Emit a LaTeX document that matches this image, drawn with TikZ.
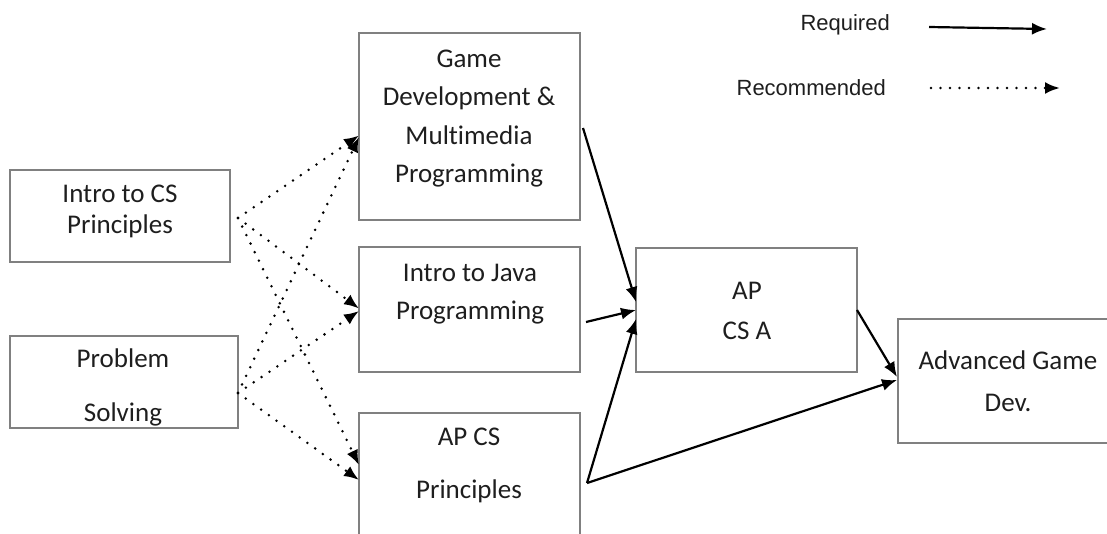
\documentclass[tikz,border=0pt]{standalone}
\usepackage{fontspec}
\setmainfont{Carlito}[Ligatures=NoCommon]
\newfontfamily\legendfont{Liberation Sans}
\usetikzlibrary{arrows.meta,calc}
\definecolor{boxgray}{RGB}{128,128,128}
\definecolor{txtgray}{RGB}{30,30,30}
\begin{document}
\begin{tikzpicture}[x=1pt,y=-1pt,
  box/.style={draw=boxgray, line width=1.5pt, rectangle, inner sep=0pt, outer sep=0pt},
  txt/.style={align=center, inner sep=0pt, text=txtgray, font=\fontsize{27}{#1}\selectfont},
  leg/.style={inner sep=0pt, text=txtgray, font=\legendfont\fontsize{22}{26}\selectfont},
  req/.style={draw=black, line width=2.2pt, -{Latex[length=15pt,width=12pt]}},
  rec/.style={draw=black, line width=2.8pt, line cap=round, dash pattern=on 0pt off 9.5pt, -{Latex[length=15pt,width=12pt]}}
]
\useasboundingbox (0,0) rectangle (1107,533);

% boxes
\node[box, minimum width=220pt, minimum height=92pt] (intro) at (120,216) {};
\node[box, minimum width=228pt, minimum height=92pt] (prob) at (124,382) {};
\node[box, minimum width=221pt, minimum height=187pt] (game) at (469.5,126.5) {};
\node[box, minimum width=221pt, minimum height=125pt] (java) at (469.5,309.5) {};
\node[box, minimum width=221pt, minimum height=150pt] (apcsp) at (469.5,488) {};
\node[box, minimum width=221pt, minimum height=124pt] (apcsa) at (746.5,310) {};
\node[box, minimum width=240pt, minimum height=124pt] (adv) at (1018,381) {};

% texts
\node[txt=31] (introt) at (120,211.5) {Intro to CS\\Principles};
\node[txt=54] (probt) at (123,387) {Problem\\Solving};
\node[txt=38.5] (gamet) at (469,118.5) {Game\\Development \&\\Multimedia\\Programming};
\node[txt=38] (javat) at (470,294) {Intro to Java\\Programming};
\node[txt=53] (apcspt) at (469,465.5) {AP CS\\Principles};
\node[txt=40] (apcsat) at (747,310.5) {AP\\CS A};
\node[txt=42] (advt) at (1008,381.5) {Advanced Game\\Dev.};

% legend
\node[leg, anchor=east] (reql) at (890,25) {Required};
\node[leg, anchor=east] (recl) at (886,88) {Recommended};
\coordinate (reqa) at (929,27);
\coordinate (reqb) at (1047,29);
\coordinate (reca) at (931,88);
\coordinate (recb) at (1060,88);
\draw[req] (reqa) -- (reqb);
\draw[rec] (reca) -- (recb);

% recommended connectors
\coordinate (is) at ($(intro.east)+(8,2)$);
\coordinate (ps) at ($(prob.east)+(0,11)$);
\draw[rec] (is) -- ($(game.west)+(0,9)$);
\draw[rec] (is) -- ($(java.west)+(0,-1)$);
\draw[rec] (is) -- ($(apcsp.north west)+(0,52)$);
\draw[rec] (ps) -- ($(game.west)+(0,10.5)$);
\draw[rec] (ps) -- ($(java.west)+(0,1.5)$);
\draw[rec] (ps) -- ($(apcsp.north west)+(0,67)$);

% required connectors
\coordinate (ss) at ($(apcsp.north east)+(7,70)$);
\draw[req] ($(game.east)+(3,1.5)$) -- ($(apcsa.west)+(0,-8)$);
\draw[req] ($(java.east)+(6,12.5)$) -- ($(apcsa.west)+(0,0)$);
\draw[req] (ss) -- ($(apcsa.west)+(0,9)$);
\draw[req] (ss) -- ($(adv.west)+(-1,-1)$);
\draw[req] ($(apcsa.east)+(0,0)$) -- ($(adv.west)+(-1,-4)$);
\end{tikzpicture}
\end{document}
